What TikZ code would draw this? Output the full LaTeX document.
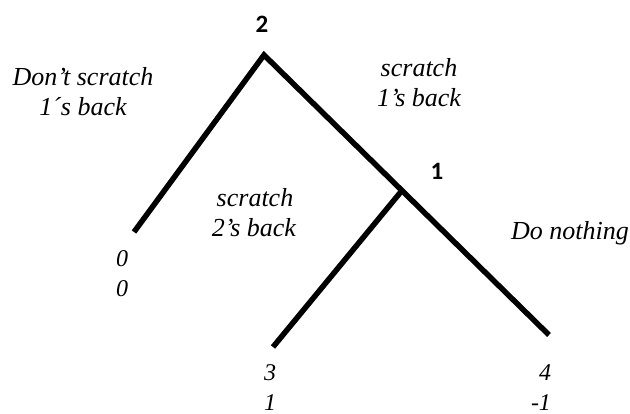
\documentclass[tikz,border=0pt]{standalone}
\usepackage{fontspec}
\usetikzlibrary{calc}
\setmainfont{Liberation Serif}
\newfontfamily\labfont{Liberation Serif Italic}
\newfontfamily\playerfont{Carlito}
\begin{document}
\begin{tikzpicture}[x=1pt,y=-1pt,
  branch/.style={line width=5.5pt,line join=miter},
  lbl/.style={font=\labfont\fontsize{26}{30}\selectfont,anchor=base,inner sep=0pt},
  pay/.style={font=\labfont\fontsize{24}{30}\selectfont,anchor=base,inner sep=0pt},
  player/.style={font=\playerfont\fontsize{25}{28}\selectfont\bfseries,inner sep=0pt}]
\useasboundingbox (0,0) rectangle (630,414);
\coordinate (n2) at (264,55);
\coordinate (a) at (134,232);
\coordinate (c) at (549,335);
\coordinate (n1) at ($(n2)!0.484!(c)$);
\coordinate (b) at (273,347);
\draw[branch] (a) -- (n2) -- (c);
\draw[branch] (n1) -- (b);
\node[player] (p2) at (262,24) {2};
\node[player] (p1) at (437,171) {1};
\node[lbl] (l1a) at (83,86) {Don’t scratch};
\node[lbl] (l1b) at (83,116) {1´s back};
\node[lbl] (l2a) at (419,77) {scratch};
\node[lbl] (l2b) at (419,107) {1’s back};
\node[lbl] (l3a) at (255,207) {scratch};
\node[lbl] (l3b) at (254,237) {2’s back};
\node[lbl] (l4) at (570,240) {Do nothing};
\node[pay] (pa1) at (122,267) {0};
\node[pay] (pa2) at (122,297) {0};
\node[pay] (pb1) at (270,381) {3};
\node[pay] (pb2) at (270,410) {1};
\node[pay] (pc1) at (545,381) {4};
\node[pay] (pc2) at (541,410) {-1};
\end{tikzpicture}
\end{document}
